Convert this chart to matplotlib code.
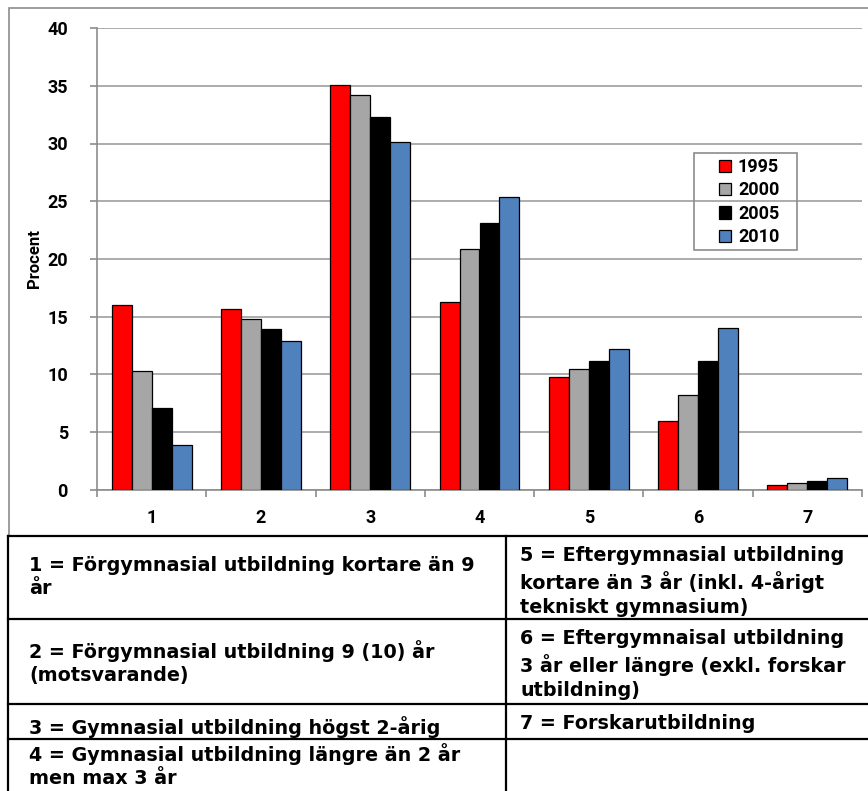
import numpy as np
import matplotlib.pyplot as plt
from matplotlib.patches import Rectangle
from matplotlib.lines import Line2D

plt.rcParams['font.family'] = 'Roboto'
plt.rcParams['font.weight'] = 'bold'

# Data
categories = ['1', '2', '3', '4', '5', '6', '7']
years = ['1995', '2000', '2005', '2010']
v1995 = [16.0, 15.7, 35.1, 16.3, 9.8, 6.0, 0.4]
v2000 = [10.3, 14.8, 34.2, 20.9, 10.5, 8.2, 0.6]
v2005 = [7.1, 13.9, 32.3, 23.1, 11.2, 11.2, 0.8]
v2010 = [3.9, 12.9, 30.1, 25.4, 12.2, 14.0, 1.0]
colors = ['#FF0000', '#A6A6A6', '#000000', '#4F81BD']

table_left = [
    "1 = Förgymnasial utbildning kortare än 9\når",
    "2 = Förgymnasial utbildning 9 (10) år\n(motsvarande)",
    "3 = Gymnasial utbildning högst 2-årig",
    "4 = Gymnasial utbildning längre än 2 år\nmen max 3 år",
]
table_right = [
    "5 = Eftergymnasial utbildning\nkortare än 3 år (inkl. 4-årigt\ntekniskt gymnasium)",
    "6 = Eftergymnaisal utbildning\n3 år eller längre (exkl. forskar\nutbildning)",
    "7 = Forskarutbildning",
]

W, H = 868, 791
fig = plt.figure(figsize=(W / 100, H / 100), dpi=100)

def fx(px):
    return px / W

def fy(py):
    return 1 - py / H

# chart frame
fig.patches.append(Rectangle((fx(9), fy(536)), fx(870) - fx(9), fy(8) - fy(536),
                             transform=fig.transFigure, fill=False,
                             edgecolor='#8C8C8C', linewidth=1.2))

ax = fig.add_axes([fx(97), fy(490), fx(862) - fx(97), fy(28) - fy(490)])
series = [v1995, v2000, v2005, v2010]
x = np.arange(len(categories))
bw = 0.183
for i, (vals, c, yr) in enumerate(zip(series, colors, years)):
    ax.bar(x + (i - 1.5) * bw, vals, bw, color=c, edgecolor='black',
           linewidth=0.9, label=yr, zorder=3)

ax.set_xlim(-0.5, len(categories) - 0.5)
ax.set_ylim(0, 40)
ax.set_yticks(range(0, 41, 5))
ax.yaxis.grid(True, color='#A6A6A6', linewidth=1.3, zorder=0)
ax.set_axisbelow(True)
for s in ['top', 'right']:
    ax.spines[s].set_visible(False)
for s in ['left', 'bottom']:
    ax.spines[s].set_color('#8C8C8C')
    ax.spines[s].set_linewidth(1.2)

ax.set_xticks(x)
ax.set_xticklabels(categories)
ax.set_xticks(np.arange(-0.5, len(categories)), minor=True)
ax.tick_params(axis='x', which='major', length=0, pad=14, labelsize=13)
ax.tick_params(axis='x', which='minor', length=5, color='#8C8C8C', width=1.2)
ax.tick_params(axis='y', length=5, color='#8C8C8C', width=1.2, pad=16, labelsize=13)
ax.set_ylabel('Procent', fontsize=12, fontweight='bold', labelpad=4)

# legend with its own frame
fig.patches.append(Rectangle((fx(694), fy(250)), fx(797) - fx(694), fy(153) - fy(250),
                             transform=fig.transFigure, fill=False,
                             edgecolor='#8C8C8C', linewidth=1.2, zorder=5))
leg = ax.legend(loc='upper left', bbox_to_anchor=(fx(719), fy(158)),
                bbox_transform=fig.transFigure, borderaxespad=0, borderpad=0,
                frameon=False, handlelength=0.65, handleheight=0.65,
                handletextpad=0.4, labelspacing=0.3,
                prop={'weight': 'bold', 'size': 13})

# table
rows = [536, 619, 704, 739, 791]
lw = 1.6
for r in rows[:-1]:
    fig.add_artist(Line2D([fx(8), fx(870)], [fy(r), fy(r)], color='black', lw=lw))
fig.add_artist(Line2D([fx(8), fx(8)], [fy(536), fy(795)], color='black', lw=lw))
fig.add_artist(Line2D([fx(506), fx(506)], [fy(536), fy(795)], color='black', lw=lw))

left_top = [556, 640, 716, 743]
right_top = [546, 629, 714]
for txt, t in zip(table_left, left_top):
    fig.text(fx(29), fy(t), txt, ha='left', va='top',
             fontfamily='DejaVu Sans', fontweight='bold', fontsize=13.8,
             linespacing=1.3)
for txt, t in zip(table_right, right_top):
    fig.text(fx(520), fy(t), txt, ha='left', va='top',
             fontfamily='DejaVu Sans', fontweight='bold', fontsize=13.8,
             linespacing=1.32)

fig.savefig('out.png', dpi=100)
